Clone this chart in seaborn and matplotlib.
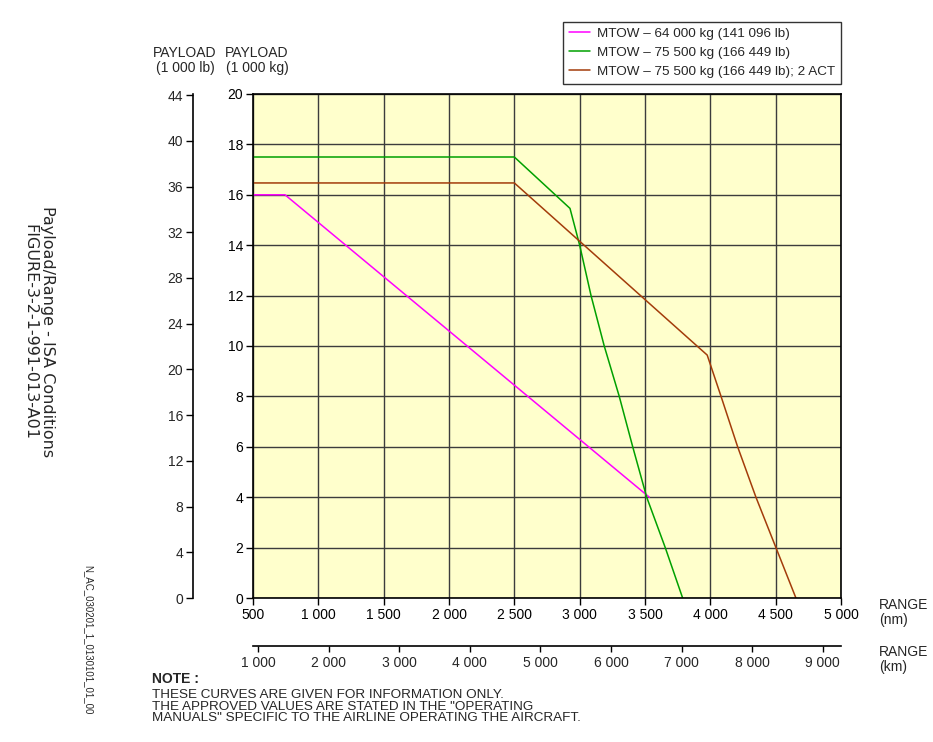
import numpy as np
import pandas as pd
import matplotlib
matplotlib.use("Agg")
import matplotlib.pyplot as plt
import seaborn as sns

# ---------------- data ----------------
series_labels = [
    "MTOW \u2013 64 000 kg (141 096 lb)",
    "MTOW \u2013 75 500 kg (166 449 lb)",
    "MTOW \u2013 75 500 kg (166 449 lb); 2 ACT",
]
series_colors = ["#FF00FF", "#00A000", "#A33C0A"]

pink_range = [500, 745, 3533]
pink_payload = [16.0, 16.0, 4.0]

green_range = [500, 2500, 2926, 3000, 3087, 3188, 3303, 3406, 3513, 3655, 3788]
green_payload = [17.5, 17.5, 15.46, 14.0, 12.0, 10.0, 8.0, 6.0, 4.0, 2.0, 0.0]

brown_range = [500, 2500, 3976, 4082, 4209, 4349, 4502, 4655]
brown_payload = [16.47, 16.47, 9.64, 8.0, 6.0, 4.0, 2.0, 0.0]

nm_ticks = [500, 1000, 1500, 2000, 2500, 3000, 3500, 4000, 4500, 5000]
nm_labels = ["500", "1 000", "1 500", "2 000", "2 500", "3 000", "3 500",
             "4 000", "4 500", "5 000"]
km_ticks = [1000, 2000, 3000, 4000, 5000, 6000, 7000, 8000, 9000]
km_labels = ["1 000", "2 000", "3 000", "4 000", "5 000", "6 000", "7 000",
             "8 000", "9 000"]
kg_ticks = [0, 2, 4, 6, 8, 10, 12, 14, 16, 18, 20]
lb_ticks = [0, 4, 8, 12, 16, 20, 24, 28, 32, 36, 40, 44]

# ---------------- build table ----------------
frames = []
for lab, xs, ys in zip(series_labels,
                       [pink_range, green_range, brown_range],
                       [pink_payload, green_payload, brown_payload]):
    frames.append(pd.DataFrame({"range": xs, "payload": ys, "series": lab}))
df = pd.concat(frames, ignore_index=True)

sns.set_theme(style="ticks")
plt.rcParams["font.family"] = ["Liberation Sans", "DejaVu Sans"]

FS = 10
W, H = 933, 742
fig = plt.figure(figsize=(W / 100, H / 100), dpi=100)
fig.patch.set_facecolor("white")

L, R, T, B = 253, 841, 94, 598
ax = fig.add_axes([L / W, 1 - B / H, (R - L) / W, (B - T) / H])
ax.set_facecolor("#FFFFCC")

sns.lineplot(data=df, x="range", y="payload", hue="series",
             hue_order=series_labels, palette=series_colors,
             sort=False, estimator=None, linewidth=1.1, ax=ax)

ax.set_xlim(500, 5000)
ax.set_ylim(0, 20)
ax.set_xticks(nm_ticks)
ax.set_xticklabels(nm_labels, fontsize=FS)
ax.set_yticks(kg_ticks)
ax.set_yticklabels([str(v) for v in kg_ticks], fontsize=FS)
ax.set_xlabel("")
ax.set_ylabel("")
ax.grid(True, color="#3c3c3c", linewidth=1.0)
for s in ax.spines.values():
    s.set_color("black")
    s.set_linewidth(1.2)
    s.set_visible(True)
ax.tick_params(axis="both", direction="out", length=5, width=1, color="black",
               pad=2, labelcolor="black")

# km axis
km_ax = ax.secondary_xaxis(-(646 - B) / (B - T),
                           functions=(lambda x: x * 1.852, lambda x: x / 1.852))
km_ax.set_xticks(km_ticks)
km_ax.set_xticklabels(km_labels, fontsize=FS)
km_ax.tick_params(direction="out", length=4, width=1, color="black", pad=3)
km_ax.spines["bottom"].set_linewidth(1.2)
km_ax.spines["bottom"].set_color("black")

# lb axis
lb_ax = ax.secondary_yaxis(-(L - 193) / (R - L),
                           functions=(lambda y: y * 2.20462, lambda y: y / 2.20462))
lb_ax.set_yticks(lb_ticks)
lb_ax.set_yticklabels([str(v) for v in lb_ticks], fontsize=FS)
lb_ax.tick_params(direction="out", length=5, width=1, color="black", pad=2)
lb_ax.spines["left"].set_linewidth(1.2)
lb_ax.spines["left"].set_color("black")

# legend
handles, labels = ax.get_legend_handles_labels()
leg = ax.legend(handles, labels, loc="upper right",
                bbox_to_anchor=(R / W, 1 - 22 / H), bbox_transform=fig.transFigure,
                borderaxespad=0, fancybox=False, framealpha=1, edgecolor="#333333",
                fontsize=9.7, handlelength=1.6, labelspacing=0.5,
                borderpad=0.4, handletextpad=0.55)
leg.get_frame().set_linewidth(1.0)

# texts
fig.text(185 / W, 1 - 46 / H, "PAYLOAD\n(1 000 lb)", ha="center", va="top",
         fontsize=FS, linespacing=1.05)
fig.text(257 / W, 1 - 46 / H, "PAYLOAD\n(1 000 kg)", ha="center", va="top",
         fontsize=FS, linespacing=1.05)
fig.text(879 / W, 1 - 598 / H, "RANGE\n(nm)", ha="left", va="top",
         fontsize=FS, linespacing=1.05)
fig.text(879 / W, 1 - 645 / H, "RANGE\n(km)", ha="left", va="top",
         fontsize=FS, linespacing=1.05)
fig.text(152 / W, 1 - 672 / H, "NOTE :", ha="left", va="top",
         fontsize=FS, fontweight="bold")
fig.text(152 / W, 1 - 689 / H,
         "THESE CURVES ARE GIVEN FOR INFORMATION ONLY.\n"
         "THE APPROVED VALUES ARE STATED IN THE \"OPERATING\n"
         "MANUALS\" SPECIFIC TO THE AIRLINE OPERATING THE AIRCRAFT.",
         ha="left", va="top", fontsize=9.7, linespacing=0.97)
fig.text(39 / W, 1 - 332 / H,
         "Payload/Range - ISA Conditions\nFIGURE-3-2-1-991-013-A01",
         rotation=-90, ha="center", va="center", fontsize=11.5,
         family=["DejaVu Sans"], multialignment="center", linespacing=1.2)
fig.text(88 / W, 1 - 640 / H, "N_AC_030201_1_0130101_01_00",
         rotation=-90, ha="center", va="center", fontsize=7)

fig.savefig("out.png", dpi=100, facecolor="white")
